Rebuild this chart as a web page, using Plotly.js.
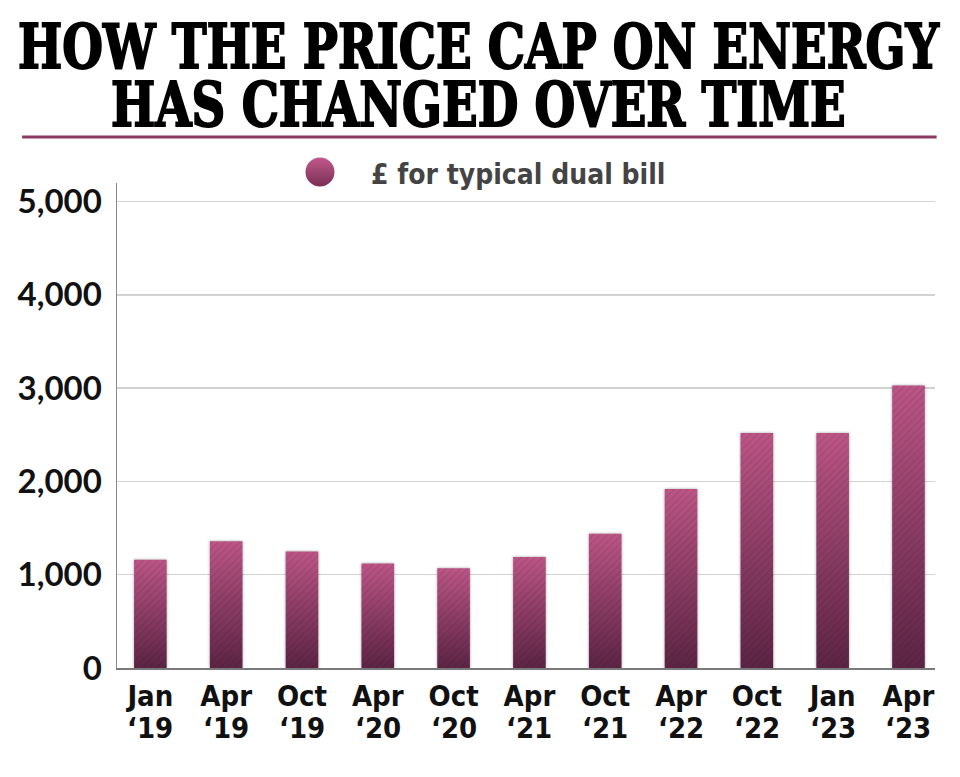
<!DOCTYPE html>
<html>
<head>
<meta charset="utf-8">
<script src="https://cdn.plot.ly/plotly-3.0.1.min.js"></script>
<style>
  html, body { margin: 0; padding: 0; background: #fff; }
  #chart { width: 960px; height: 777px; }
</style>
</head>
<body>
<div id="chart"></div>
<script>
// ---- Data ----
const periods = ['Jan ‘19', 'Apr ‘19', 'Oct ‘19', 'Apr ‘20', 'Oct ‘20', 'Apr ‘21', 'Oct ‘21', 'Apr ‘22', 'Oct ‘22', 'Jan ‘23', 'Apr ‘23'];
const monthLabels = ['Jan', 'Apr', 'Oct', 'Apr', 'Oct', 'Apr', 'Oct', 'Apr', 'Oct', 'Jan', 'Apr'];
const yearLabels = ['‘19', '‘19', '‘19', '‘20', '‘20', '‘21', '‘21', '‘22', '‘22', '‘23', '‘23'];
const capValues = [1160, 1360, 1250, 1120, 1070, 1190, 1440, 1920, 2520, 2520, 3030];
const seriesName = '£ for typical dual bill';
const titleLines = ['HOW THE PRICE CAP ON ENERGY', 'HAS CHANGED OVER TIME'];
const yTicks = [0, 1000, 2000, 3000, 4000, 5000];

const condFamily = 'DejaVu Sans Condensed, Liberation Sans Narrow, sans-serif';
const tickFontX = { family: condFamily, size: 29, weight: 700, color: '#111' };
const titleFont = { family: 'DejaVu Serif Condensed, DejaVu Serif, serif', size: 52, weight: 700, color: '#000' };

const data = [{
  type: 'bar',
  x: periods,
  y: capValues,
  name: seriesName,
  width: 0.43,
  marker: { color: '#8c3a63', line: { width: 0 } },
  hoverinfo: 'skip',
  showlegend: false
}];

const annotations = [
  { text: titleLines[0], xref: 'paper', yref: 'paper', x: 0.4423, y: 1.2845, xanchor: 'center', yanchor: 'middle', showarrow: false, font: titleFont },
  { text: titleLines[1], xref: 'paper', yref: 'paper', x: 0.4423, y: 1.164, xanchor: 'center', yanchor: 'middle', showarrow: false, font: titleFont },
  { text: seriesName, xref: 'paper', yref: 'paper', x: 0.308, y: 1.0165, xanchor: 'left', yanchor: 'middle', showarrow: false,
    font: { family: condFamily, size: 28, weight: 700, color: '#444' } }
];
yearLabels.forEach((yl, i) => {
  annotations.push({ text: yl, x: periods[i], xref: 'x', yref: 'paper', y: -0.1235, xanchor: 'center', yanchor: 'middle',
    showarrow: false, font: tickFontX });
});

const layout = {
  width: 960, height: 777,
  margin: { l: 117, r: 25, t: 183, b: 109 },
  paper_bgcolor: '#fff', plot_bgcolor: '#fff',
  showlegend: false,
  xaxis: {
    type: 'category', range: [-0.44, 10.35],
    tickvals: periods, ticktext: monthLabels,
    showline: true, linecolor: '#7a7a7a', linewidth: 2,
    showgrid: false, zeroline: false, ticks: '',
    ticklabelstandoff: 1,
    tickfont: tickFontX
  },
  yaxis: {
    range: [0, 5200], tickvals: yTicks, tickformat: ',d',
    showgrid: true, gridcolor: '#d2d2d2', gridwidth: 1.5,
    showline: true, linecolor: '#8a8a8a', linewidth: 1.5,
    zeroline: false, ticks: '',
    ticklabelstandoff: 7,
    tickfont: { family: 'Lato, sans-serif', size: 33, weight: 700, color: '#111' }
  },
  shapes: [
    { type: 'line', xref: 'paper', yref: 'paper', x0: -0.116, x1: 1.002, y0: 1.095, y1: 1.095,
      line: { color: '#8b3a62', width: 3 } },
    { type: 'circle', xref: 'paper', yref: 'paper', x0: 0.2304, x1: 0.2659, y0: 0.9928, y1: 1.0526,
      fillcolor: '#9c4470', line: { width: 0 } }
  ],
  annotations: annotations
};

Plotly.newPlot('chart', data, layout, { staticPlot: true, displayModeBar: false }).then(gd => {
  const NS = 'http://www.w3.org/2000/svg';
  const svg = gd.querySelector('svg.main-svg');
  const defs = svg.querySelector('defs');
  defs.insertAdjacentHTML('beforeend',
    '<linearGradient id="barGrad" x1="0" y1="0" x2="0" y2="1">' +
      '<stop offset="0" stop-color="#bb5585"/><stop offset="1" stop-color="#5c2444"/></linearGradient>' +
    '<linearGradient id="dotGrad" x1="0" y1="0" x2="0" y2="1">' +
      '<stop offset="0" stop-color="#c2588b"/><stop offset="1" stop-color="#7a2f55"/></linearGradient>' +
    '<pattern id="hatch" patternUnits="userSpaceOnUse" width="5" height="5" patternTransform="rotate(45)">' +
      '<line x1="0" y1="0" x2="0" y2="5" stroke="#000" stroke-opacity="0.10" stroke-width="2"/></pattern>');
  gd.querySelectorAll('.trace.bars .point path').forEach(p => {
    p.style.fill = 'url(#barGrad)';
    p.style.filter = 'drop-shadow(0 0 1.5px rgba(0,0,0,0.35))';
    const h = p.cloneNode(true);
    h.style.fill = 'url(#hatch)';
    h.style.filter = 'none';
    p.parentNode.insertBefore(h, p.nextSibling);
  });
  gd.querySelectorAll('.shapelayer path').forEach(p => {
    if (p.style.fill && p.style.fill !== 'none' && p.style.fill.indexOf('rgba(0, 0, 0, 0)') < 0) {
      p.style.fill = 'url(#dotGrad)';
    }
  });
  // heavier, taller title lettering (like the reference's slab display face)
  const anns = gd.querySelectorAll('.annotation');
  [0, 1].forEach(k => {
    const node = anns[k];
    if (!node) return;
    const txt = node.querySelector('text');
    if (txt) { txt.style.stroke = '#000'; txt.style.strokeWidth = '1.6px'; }
    const bb = node.getBBox();
    const cy = bb.y + bb.height / 2;
    const s = 1.2;
    const wrap = document.createElementNS(NS, 'g');
    node.parentNode.insertBefore(wrap, node);
    wrap.appendChild(node);
    wrap.setAttribute('transform', 'translate(0,' + (cy * (1 - s)) + ') scale(1,' + s + ')');
  });
});
</script>
</body>
</html>
